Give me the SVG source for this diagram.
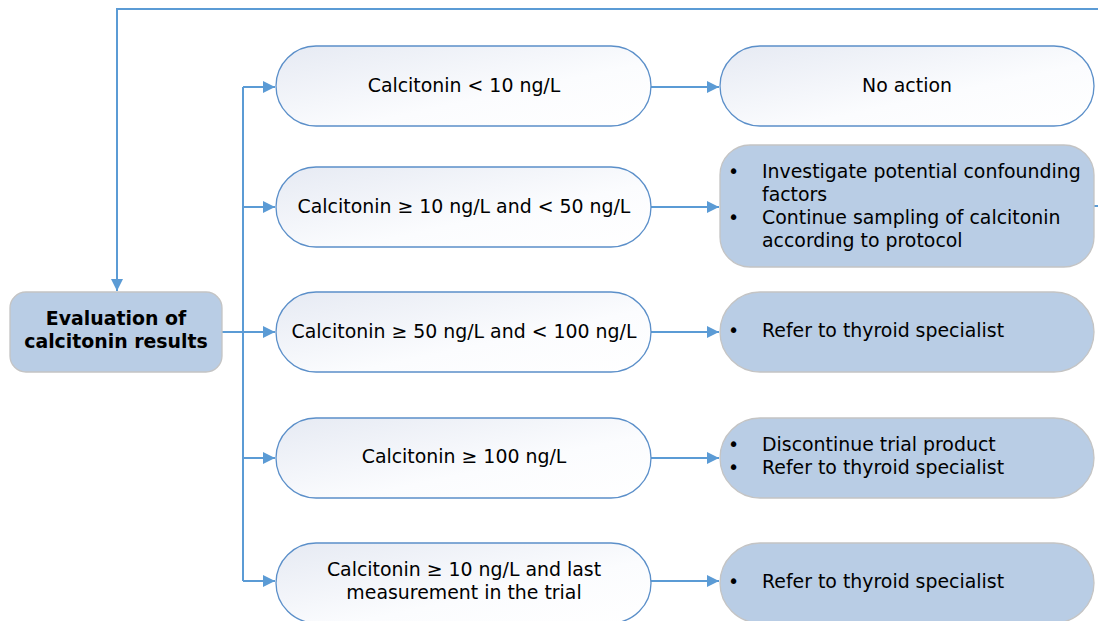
<svg xmlns="http://www.w3.org/2000/svg" width="1098" height="621" viewBox="0 0 1098 621">
<style>
text{font-family:"DejaVu Sans",Verdana,sans-serif;font-size:18.9px;fill:#000}
.c{text-anchor:middle}
.b{font-weight:bold}
.w{fill:url(#g);stroke:#5b8fc9;stroke-width:1.3}
.f{fill:#b9cde5;stroke:#c4c4c4;stroke-width:1.3}
.ln{fill:none;stroke:#5b9bd5;stroke-width:2}
</style>
<defs>
<linearGradient id="g" x1="0" y1="0" x2="1" y2="1">
<stop offset="0" stop-color="#e6eaf3"/>
<stop offset="0.6" stop-color="#fbfcfe"/>
<stop offset="1" stop-color="#ffffff"/>
</linearGradient>
<marker id="a" markerWidth="13" markerHeight="12" refX="12" refY="6" orient="auto" markerUnits="userSpaceOnUse">
<path d="M0,0 L12,6 L0,12 Z" fill="#5b9bd5"/>
</marker>
</defs>
<g id="connectors">
<path class="ln" d="M1098,9 H117 V291" marker-end="url(#a)"/>
<path class="ln" d="M1094,206 H1098"/>
<path class="ln" d="M222,332 H243"/>
<path class="ln" d="M243,87 V581"/>
<path class="ln" d="M243,87 H275" marker-end="url(#a)"/>
<path class="ln" d="M243,207 H275" marker-end="url(#a)"/>
<path class="ln" d="M243,332 H275" marker-end="url(#a)"/>
<path class="ln" d="M243,458 H275" marker-end="url(#a)"/>
<path class="ln" d="M243,581 H275" marker-end="url(#a)"/>
<path class="ln" d="M651,87 H719" marker-end="url(#a)"/>
<path class="ln" d="M651,207 H719" marker-end="url(#a)"/>
<path class="ln" d="M651,332 H719" marker-end="url(#a)"/>
<path class="ln" d="M651,458 H719" marker-end="url(#a)"/>
<path class="ln" d="M651,581 H719" marker-end="url(#a)"/>
</g>
<g id="eval">
<rect class="f" x="10" y="292" width="212" height="80" rx="16"/>
<text class="c b" x="116" y="325">Evaluation of</text>
<text class="c b" x="116" y="348">calcitonin results</text>
</g>
<g id="c1">
<rect class="w" x="276" y="46" width="375" height="80" rx="40"/>
<text class="c" x="464" y="92">Calcitonin &lt; 10 ng/L</text>
</g>
<g id="c2">
<rect class="w" x="276" y="167" width="375" height="80" rx="40"/>
<text class="c" x="464" y="213">Calcitonin ≥ 10 ng/L and &lt; 50 ng/L</text>
</g>
<g id="c3">
<rect class="w" x="276" y="292" width="375" height="80" rx="40"/>
<text class="c" x="464" y="338">Calcitonin ≥ 50 ng/L and &lt; 100 ng/L</text>
</g>
<g id="c4">
<rect class="w" x="276" y="418" width="375" height="80" rx="40"/>
<text class="c" x="464" y="463">Calcitonin ≥ 100 ng/L</text>
</g>
<g id="c5">
<rect class="w" x="276" y="543" width="375" height="80" rx="40"/>
<text class="c" x="464" y="576">Calcitonin ≥ 10 ng/L and last</text>
<text class="c" x="464" y="599">measurement in the trial</text>
</g>
<g id="r1">
<rect class="w" x="720" y="46" width="374" height="80" rx="40"/>
<text class="c" x="907" y="92">No action</text>
</g>
<g id="r2">
<rect class="f" x="720" y="145" width="374" height="122" rx="30"/>
<text x="728" y="178">•</text>
<text x="762" y="178">Investigate potential confounding</text>
<text x="762" y="201">factors</text>
<text x="728" y="224">•</text>
<text x="762" y="224">Continue sampling of calcitonin</text>
<text x="762" y="247">according to protocol</text>
</g>
<g id="r3">
<rect class="f" x="720" y="292" width="374" height="80" rx="40"/>
<text x="728" y="337">•</text>
<text x="762" y="337">Refer to thyroid specialist</text>
</g>
<g id="r4">
<rect class="f" x="720" y="418" width="374" height="80" rx="40"/>
<text x="728" y="451">•</text>
<text x="762" y="451">Discontinue trial product</text>
<text x="728" y="474">•</text>
<text x="762" y="474">Refer to thyroid specialist</text>
</g>
<g id="r5">
<rect class="f" x="720" y="543" width="374" height="80" rx="40"/>
<text x="728" y="588">•</text>
<text x="762" y="588">Refer to thyroid specialist</text>
</g>
</svg>
